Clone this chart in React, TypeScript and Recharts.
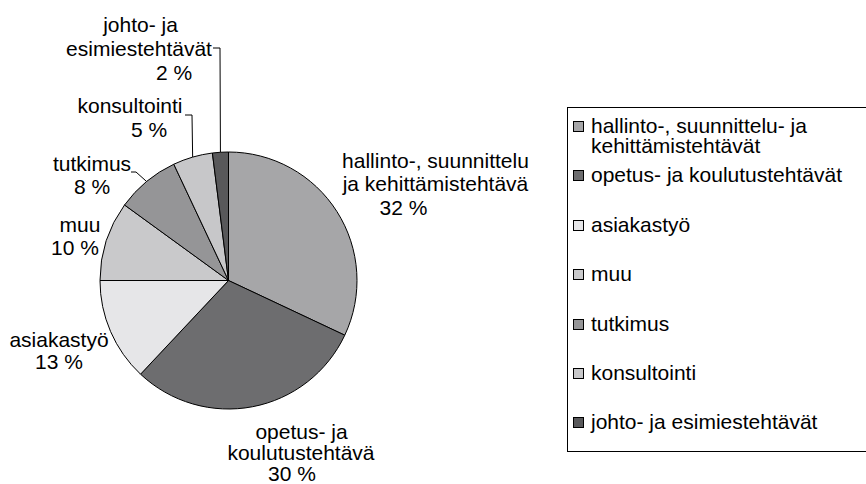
import React from 'react';
import { PieChart, Pie, Cell, Legend } from 'recharts';

const categories = [
  'hallinto-, suunnittelu- ja kehittämistehtävät',
  'opetus- ja koulutustehtävät',
  'asiakastyö',
  'muu',
  'tutkimus',
  'konsultointi',
  'johto- ja esimiestehtävät',
];
const shares = [32, 30, 13, 10, 8, 5, 2];
const labelTexts = [
  ['hallinto-, suunnittelu', 'ja kehittämistehtävä', '32 %'],
  ['opetus- ja', 'koulutustehtävä', '30 %'],
  ['asiakastyö', '13 %'],
  ['muu', '10 %'],
  ['tutkimus', '8 %'],
  ['konsultointi', '5 %'],
  ['johto- ja', 'esimiestehtävät', '2 %'],
];
const legendTexts = [
  ['hallinto-, suunnittelu- ja', 'kehittämistehtävät'],
  ['opetus- ja koulutustehtävät'],
  ['asiakastyö'],
  ['muu'],
  ['tutkimus'],
  ['konsultointi'],
  ['johto- ja esimiestehtävät'],
];

const colors = ['#a6a6a8', '#6d6d6f', '#e6e6e8', '#c9c9cb', '#959597', '#c7c7c9', '#58585a'];
const FONT = '"Liberation Sans", Arial, sans-serif';
const FS = 21;

const data = categories.map((name, i) => ({ name, value: shares[i] }));

// label layout: line center x / baseline y (page coords), and leader polyline start points
const labelLayout = [
  { lines: [[435.5, 168], [435.5, 191], [403.5, 215]], leader: null },
  { lines: [[301.5, 439], [301, 460], [292, 481]], leader: null },
  { lines: [[59, 347], [59, 369]], leader: null },
  { lines: [[80, 232], [75, 255]], leader: null },
  { lines: [[92, 171], [92, 194]], leader: [[131, 172], [136, 172]] },
  { lines: [[130, 113], [149, 137]], leader: [[185, 115], [192, 115]] },
  { lines: [[140.5, 32], [139, 56], [174, 80]], leader: [[213, 48], [220, 48]] },
];

const RAD = Math.PI / 180;

const renderLabel = (props: any) => {
  const { cx, cy, midAngle, outerRadius, index } = props;
  const lay = labelLayout[index];
  const texts = labelTexts[index];
  let leader = null;
  if (lay.leader) {
    const ex = cx + outerRadius * Math.cos(-midAngle * RAD);
    const ey = cy + outerRadius * Math.sin(-midAngle * RAD);
    const pts = [...lay.leader, [ex, ey]].map((p) => p.join(',')).join(' ');
    leader = <polyline points={pts} fill="none" stroke="#000" strokeWidth={1} />;
  }
  return (
    <g key={`lbl-${index}`}>
      {leader}
      {texts.map((t, j) => (
        <text
          key={j}
          x={lay.lines[j][0]}
          y={lay.lines[j][1]}
          textAnchor="middle"
          fontFamily={FONT}
          fontSize={FS}
          fill="#000"
        >
          {t}
        </text>
      ))}
    </g>
  );
};

const legendCenters = [17.5, 67, 117, 166, 216, 265, 314];

const renderLegend = () => {
  return (
    <div
      style={{
        position: 'relative',
        width: 300,
        height: 345,
        border: '1px solid #000',
        boxSizing: 'border-box',
        fontFamily: FONT,
        fontSize: FS,
        color: '#000',
      }}
    >
      {categories.map((name, i) => {
        const c = legendCenters[i];
        const lines = legendTexts[i] || [name];
        return (
          <div key={name}>
            <div
              style={{
                position: 'absolute',
                left: 5,
                top: c - 5,
                width: 11,
                height: 11,
                background: colors[i],
                border: '1px solid #000',
                boxSizing: 'border-box',
              }}
            />
            <div
              style={{
                position: 'absolute',
                left: 23,
                top: c - 10,
                lineHeight: '20px',
                whiteSpace: 'nowrap',
              }}
            >
              {lines.map((l, j) => (
                <div key={j}>{l}</div>
              ))}
            </div>
          </div>
        );
      })}
    </div>
  );
};

export default function App() {
  return (
    <div style={{ position: 'absolute', left: 0, top: 0, width: 866, height: 484, background: '#fff' }}>
      <PieChart width={866} height={484} margin={{ top: 0, right: 0, bottom: 0, left: 0 }}>
        <Pie
          data={data}
          dataKey="value"
          nameKey="name"
          cx={228.5}
          cy={280.5}
          outerRadius={128.5}
          startAngle={90}
          endAngle={-270}
          stroke="#000"
          strokeWidth={1}
          label={renderLabel}
          labelLine={false}
          isAnimationActive={false}
        >
          {data.map((d, i) => (
            <Cell key={d.name} fill={colors[i]} />
          ))}
        </Pie>
        <Legend
          layout="vertical"
          align="right"
          verticalAlign="top"
          content={renderLegend}
          wrapperStyle={{ position: 'absolute', left: 567, top: 107, width: 300, height: 345 }}
        />
      </PieChart>
    </div>
  );
}
